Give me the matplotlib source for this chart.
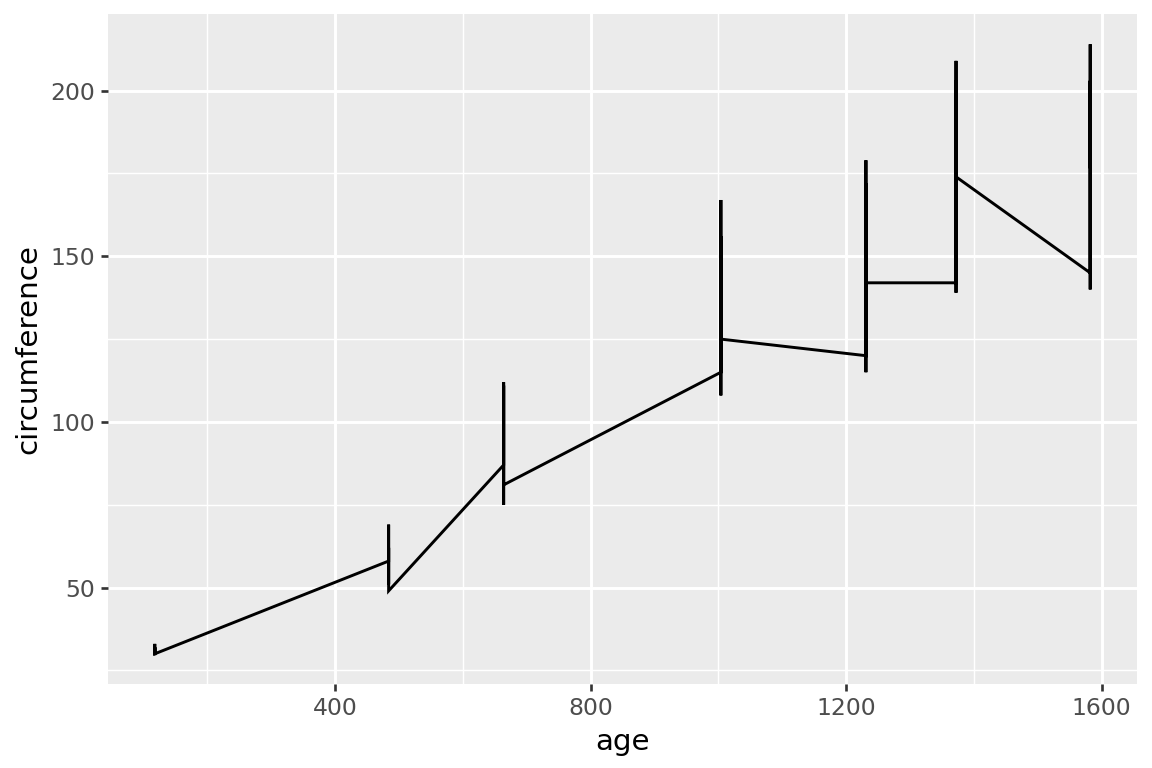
import matplotlib
matplotlib.use("Agg")
import matplotlib.pyplot as plt
import numpy as np

# Orange trees data (age in days, circumference in mm), one list per tree
ages = [118, 484, 664, 1004, 1231, 1372, 1582]
tree1 = [30, 58, 87, 115, 120, 142, 145]
tree2 = [33, 69, 111, 156, 172, 203, 203]
tree3 = [30, 51, 75, 108, 115, 139, 140]
tree4 = [32, 62, 112, 167, 179, 209, 214]
tree5 = [30, 49, 81, 125, 142, 174, 177]

# stack rows in data order, then stable sort by age (like geom_line)
x = np.array(ages * 5)
y = np.array(tree1 + tree2 + tree3 + tree4 + tree5)
order = np.argsort(x, kind="stable")
x, y = x[order], y[order]

plt.rcParams['font.family'] = ['DejaVu Sans']
fig = plt.figure(figsize=(6, 4), dpi=192)
ax = fig.add_axes([0.09375, 0.109, 0.8932, 0.873])

ax.set_facecolor('#EBEBEB')
for s in ax.spines.values():
    s.set_visible(False)

xr = x.max() - x.min()
yr = y.max() - y.min()
ax.set_xlim(x.min() - 0.05 * xr, x.max() + 0.05 * xr)
ax.set_ylim(y.min() - 0.05 * yr, y.max() + 0.05 * yr)

ax.set_xticks([400, 800, 1200, 1600])
ax.set_xticks([200, 600, 1000, 1400], minor=True)
ax.set_yticks([50, 100, 150, 200])
ax.set_yticks([25, 75, 125, 175], minor=True)

ax.grid(which='major', color='white', linewidth=1.1)
ax.grid(which='minor', color='white', linewidth=0.55)
ax.set_axisbelow(True)

ax.plot(x, y, color='black', linewidth=1.1, solid_joinstyle='miter')

ax.tick_params(which='major', length=2.75, width=1.0, color='#333333',
               labelsize=8.8, labelcolor='#4D4D4D', pad=2.2)
ax.tick_params(which='minor', length=0)

ax.set_xlabel('age', fontsize=11, labelpad=2.75)
ax.set_ylabel('circumference', fontsize=11, labelpad=2.75)

fig.savefig('out.png', dpi=192)
